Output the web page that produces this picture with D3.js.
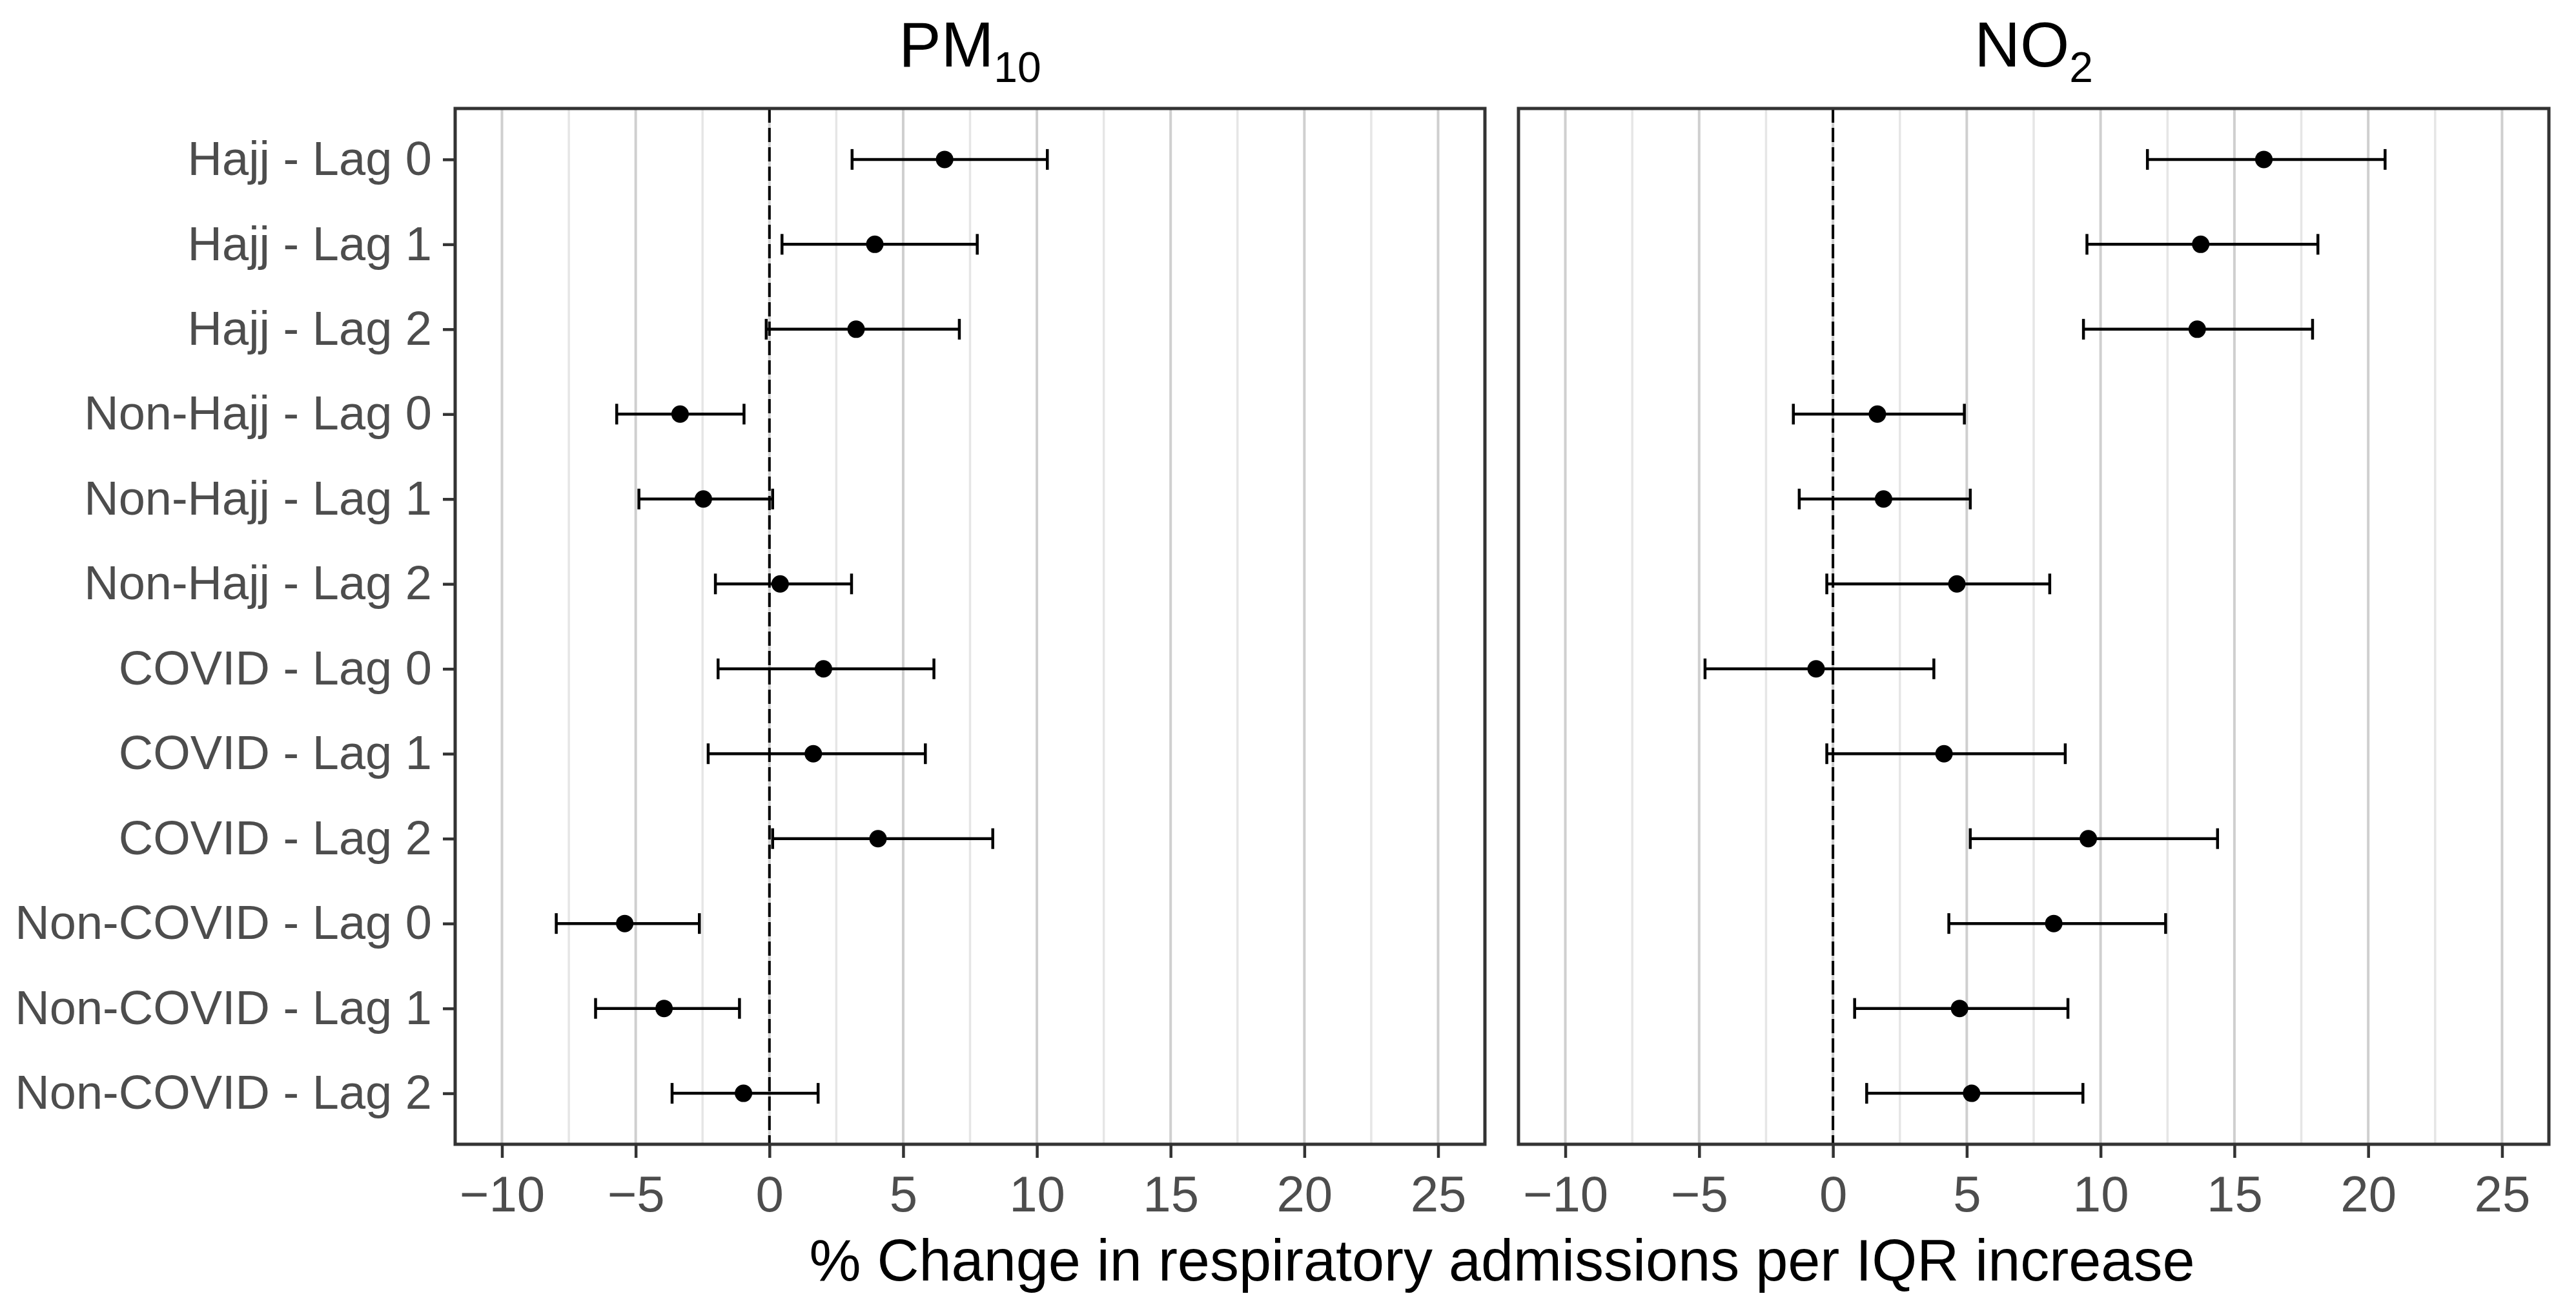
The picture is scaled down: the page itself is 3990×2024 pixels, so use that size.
<!DOCTYPE html>
<html>
<head>
<meta charset="utf-8">
<script src="https://cdn.jsdelivr.net/npm/d3@7/dist/d3.min.js"></script>
<style>
body { margin: 0; background: #fff; }
svg { display: block; }
</style>
</head>
<body>
<svg id="chart" width="3990" height="2024"></svg>
<script>
var CATEGORIES = [ "Hajj - Lag 0", "Hajj - Lag 1", "Hajj - Lag 2",
		"Non-Hajj - Lag 0", "Non-Hajj - Lag 1", "Non-Hajj - Lag 2",
		"COVID - Lag 0", "COVID - Lag 1", "COVID - Lag 2",
		"Non-COVID - Lag 0", "Non-COVID - Lag 1", "Non-COVID - Lag 2" ];

// PM10 panel
var PM10_EST = [ 6.55, 3.94, 3.24, -3.34, -2.47, 0.40, 2.02, 1.64, 4.06, -5.41, -3.94, -0.97 ];
var PM10_LOW = [ 3.09, 0.47, -0.12, -5.71, -4.88, -2.02, -1.92, -2.29, 0.12, -7.97, -6.50, -3.64 ];
var PM10_HIGH = [ 10.39, 7.77, 7.10, -0.95, 0.12, 3.07, 6.15, 5.83, 8.35, -2.62, -1.12, 1.82 ];

// NO2 panel
var NO2_EST = [ 16.10, 13.74, 13.61, 1.66, 1.89, 4.63, -0.63, 4.15, 9.54, 8.25, 4.73, 5.18 ];
var NO2_LOW = [ 11.75, 9.49, 9.36, -1.48, -1.26, -0.23, -4.78, -0.23, 5.13, 4.33, 0.81, 1.26 ];
var NO2_HIGH = [ 20.63, 18.12, 17.92, 4.91, 5.13, 8.10, 3.77, 8.68, 14.37, 12.43, 8.78, 9.34 ];

var X_TICKS = [ -10, -5, 0, 5, 10, 15, 20, 25 ];
var X_MINOR = [ -7.5, -2.5, 2.5, 7.5, 12.5, 17.5, 22.5 ];
var X_LIMITS = [ -10, 25 ];

var PANEL_TOP = 168;
var PANEL_BOTTOM = 1772;
var FONT = "'Liberation Sans', Arial, sans-serif";
var TEXT_GREY = "#4D4D4D";
var BORDER = "#333333";
var BAR_WIDTH = 4.5;

var svg = d3.select("#chart");

var expand = (X_LIMITS[1] - X_LIMITS[0]) * 0.05;
var xDomain = [ X_LIMITS[0] - expand, X_LIMITS[1] + expand ];

var y = d3.scalePoint().domain(CATEGORIES) //
.range([ PANEL_TOP, PANEL_BOTTOM ]) //
.padding(0.6);

function rows(est, low, high) {

	return (CATEGORIES.map(function(c, i) {
		return ({
			label : c,
			est : est[i],
			low : low[i],
			high : high[i]
		});
	}));

}// END: rows

function drawPanel(left, right, data, title, sub, showY) {

	var x = d3.scaleLinear().domain(xDomain).range([ left, right ]);
	var g = svg.append("g");

	// grid
	g.selectAll("line.minor").data(X_MINOR).enter().append("line") //
	.attr("class", "minor") //
	.attr("x1", function(d) { return (x(d)); }) //
	.attr("x2", function(d) { return (x(d)); }) //
	.attr("y1", PANEL_TOP) //
	.attr("y2", PANEL_BOTTOM) //
	.attr("stroke", "#E6E6E6") //
	.attr("stroke-width", 3.5);

	g.selectAll("line.major").data(X_TICKS).enter().append("line") //
	.attr("class", "major") //
	.attr("x1", function(d) { return (x(d)); }) //
	.attr("x2", function(d) { return (x(d)); }) //
	.attr("y1", PANEL_TOP) //
	.attr("y2", PANEL_BOTTOM) //
	.attr("stroke", "#CFCFCF") //
	.attr("stroke-width", 4);

	// zero line
	g.append("line") //
	.attr("x1", x(0)) //
	.attr("x2", x(0)) //
	.attr("y1", PANEL_TOP) //
	.attr("y2", PANEL_BOTTOM) //
	.attr("stroke", "#000") //
	.attr("stroke-width", 4) //
	.attr("stroke-dasharray", "22,8");

	// error bars
	var bars = g.selectAll("g.bar").data(data).enter().append("g") //
	.attr("class", "bar");

	bars.append("line") //
	.attr("x1", function(d) { return (x(d.low)); }) //
	.attr("x2", function(d) { return (x(d.high)); }) //
	.attr("y1", function(d) { return (y(d.label)); }) //
	.attr("y2", function(d) { return (y(d.label)); }) //
	.attr("stroke", "#000") //
	.attr("stroke-width", BAR_WIDTH);

	[ "low", "high" ].forEach(function(k) {
		bars.append("line") //
		.attr("x1", function(d) { return (x(d[k])); }) //
		.attr("x2", function(d) { return (x(d[k])); }) //
		.attr("y1", function(d) { return (y(d.label) - 16); }) //
		.attr("y2", function(d) { return (y(d.label) + 16); }) //
		.attr("stroke", "#000") //
		.attr("stroke-width", BAR_WIDTH);
	});

	bars.append("circle") //
	.attr("cx", function(d) { return (x(d.est)); }) //
	.attr("cy", function(d) { return (y(d.label)); }) //
	.attr("r", 13.5) //
	.attr("fill", "#000");

	// border
	g.append("rect") //
	.attr("x", left) //
	.attr("y", PANEL_TOP) //
	.attr("width", right - left) //
	.attr("height", PANEL_BOTTOM - PANEL_TOP) //
	.attr("fill", "none") //
	.attr("stroke", BORDER) //
	.attr("stroke-width", 5);

	// x axis
	var xAxis = d3.axisBottom(x).tickValues(X_TICKS) //
	.tickSize(21) //
	.tickPadding(28) //
	.tickFormat(function(d) {
		return (d < 0 ? "\u2212" + Math.abs(d) : String(d));
	});

	var ax = g.append("g") //
	.attr("transform", "translate(0," + PANEL_BOTTOM + ")") //
	.call(xAxis);
	styleAxis(ax);

	if (showY) {
		var yAxis = d3.axisLeft(y).tickSize(19).tickPadding(17);
		var ay = g.append("g") //
		.attr("transform", "translate(" + left + ",0)") //
		.call(yAxis);
		styleAxis(ay);
		ay.selectAll("text").attr("font-size", 74);
	}

	// title
	var t = svg.append("text") //
	.attr("x", (left + right) / 2) //
	.attr("y", 103) //
	.attr("text-anchor", "middle") //
	.attr("font-family", FONT) //
	.attr("font-size", 98) //
	.attr("fill", "#000");
	t.append("tspan").text(title);
	t.append("tspan") //
	.attr("dy", 24) //
	.attr("font-size", 66) //
	.text(sub);

}// END: drawPanel

function styleAxis(a) {

	a.select(".domain").remove();
	a.selectAll(".tick line") //
	.attr("stroke", BORDER) //
	.attr("stroke-width", 4.5);
	a.selectAll(".tick text") //
	.attr("font-family", FONT) //
	.attr("font-size", 78) //
	.attr("fill", TEXT_GREY);

}// END: styleAxis

drawPanel(705, 2300, rows(PM10_EST, PM10_LOW, PM10_HIGH), "PM", "10", true);
drawPanel(2352, 3948, rows(NO2_EST, NO2_LOW, NO2_HIGH), "NO", "2", false);

svg.append("text") //
.attr("x", (705 + 3948) / 2) //
.attr("y", 1983) //
.attr("text-anchor", "middle") //
.attr("font-family", FONT) //
.attr("font-size", 90) //
.attr("fill", "#000") //
.text("% Change in respiratory admissions per IQR increase");
</script>
</body>
</html>
